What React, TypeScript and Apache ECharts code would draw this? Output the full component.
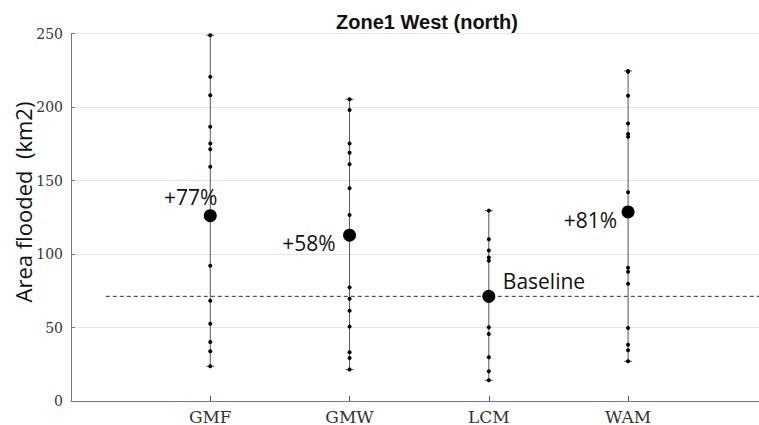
import React, { useEffect, useRef } from "react";
import * as echarts from "echarts";

const categories = ["GMF", "GMW", "LCM", "WAM"];
const categoryPositions = [1, 2, 3, 4];
const gmfValues = [248.8, 220.5, 208.0, 186.5, 175.2, 171.2, 159.4, 92.0, 68.2, 52.6, 40.2, 33.8, 23.6];
const gmwValues = [205.3, 197.9, 175.2, 168.9, 161.0, 144.7, 126.6, 77.3, 69.6, 61.4, 50.6, 33.1, 29.3, 21.4];
const lcmValues = [129.5, 110.1, 102.4, 97.6, 95.4, 50.1, 45.6, 29.8, 20.3, 14.1];
const wamValues = [224.5, 223.9, 207.6, 188.8, 181.6, 179.8, 142.0, 90.6, 87.9, 79.8, 49.7, 38.3, 34.5, 27.0];
const meanValues = [126.1, 112.8, 71.2, 128.6];
const meanLabels = ["+77%", "+58%", "Baseline", "+81%"];
const baselineValue = 71.2;
const baselineRange = [0.25, 4.94];
const yTicks = [0, 50, 100, 150, 200, 250];

const allValues = [gmfValues, gmwValues, lcmValues, wamValues];

export default function App() {
  const ref = useRef<HTMLDivElement>(null);
  useEffect(() => {
    if (!ref.current) return;
    const chart = echarts.init(ref.current, undefined, { renderer: "svg" });
    const sans = "'Open Sans', 'Noto Sans', sans-serif";
    const serif = "'DejaVu Serif', serif";

    const rangeData = allValues.map((vals, i) => [
      categoryPositions[i],
      Math.min(...vals),
      Math.max(...vals),
    ]);
    const dotData: number[][] = [];
    allValues.forEach((vals, i) => vals.forEach((v) => dotData.push([categoryPositions[i], v])));

    const labelCfg = [
      { align: "right", offset: [7, -19] },
      { align: "right", offset: [-14, 8] },
      { align: "left", offset: [14, -15] },
      { align: "right", offset: [-11, 8] },
    ];

    const meanData = meanValues.map((v, i) => ({
      value: [categoryPositions[i], v],
      label: {
        show: true,
        position: "inside",
        formatter: meanLabels[i],
        align: labelCfg[i].align,
        verticalAlign: "middle",
        offset: labelCfg[i].offset,
        fontFamily: sans,
        fontSize: 21,
        color: "#111",
      },
    }));

    chart.setOption({
      animation: false,
      backgroundColor: "#fff",
      title: {
        text: "Zone1 West (north)",
        left: 422,
        top: 7,
        textAlign: "center",
        textStyle: { fontFamily: "'Liberation Sans', Arial, sans-serif", fontWeight: "bold", fontSize: 20, color: "#111" },
      },
      grid: { left: 71, top: 33.5, width: 688, height: 368, containLabel: false },
      xAxis: {
        type: "value",
        min: 0,
        max: 4.94,
        axisLine: { show: true, lineStyle: { color: "#777", width: 1 } },
        axisTick: { show: true, inside: true, length: 5, customValues: categoryPositions, lineStyle: { color: "#555" } },
        axisLabel: {
          show: true,
          customValues: categoryPositions,
          formatter: (v: number) => categories[categoryPositions.indexOf(v)] ?? "",
          fontFamily: serif,
          fontSize: 17,
          color: "#333",
          margin: 7,
        },
        splitLine: { show: false },
      },
      yAxis: {
        type: "value",
        min: yTicks[0],
        max: yTicks[yTicks.length - 1],
        interval: 50,
        axisLine: { show: true, lineStyle: { color: "#777", width: 1 } },
        axisTick: { show: true, inside: true, length: 4, lineStyle: { color: "#777" } },
        axisLabel: { fontFamily: serif, fontSize: 14, color: "#333", margin: 8 },
        splitLine: { show: true, lineStyle: { color: "#e6e6e6", width: 1 } },
      },
      graphic: [
        {
          type: "text",
          x: 23,
          y: 202,
          rotation: Math.PI / 2,
          style: {
            text: "Area flooded  (km2)",
            fontFamily: sans,
            fontSize: 22,
            fill: "#111",
            align: "center",
            verticalAlign: "middle",
          },
        },
      ],
      series: [
        {
          type: "line",
          data: [
            [baselineRange[0], baselineValue],
            [baselineRange[1], baselineValue],
          ],
          symbol: "none",
          lineStyle: { color: "#333", width: 1, type: [4, 3] },
          z: 1,
        },
        {
          type: "custom",
          data: rangeData,
          encode: { x: 0, y: [1, 2] },
          renderItem: (params: any, api: any) => {
            const x = api.value(0);
            const top = api.coord([x, api.value(2)]);
            const bot = api.coord([x, api.value(1)]);
            const hw = 4;
            const st = { stroke: "#555", lineWidth: 1 };
            return {
              type: "group",
              children: [
                { type: "line", shape: { x1: top[0], y1: top[1], x2: bot[0], y2: bot[1] }, style: st },
                { type: "line", shape: { x1: top[0] - hw, y1: top[1], x2: top[0] + hw, y2: top[1] }, style: st },
                { type: "line", shape: { x1: bot[0] - hw, y1: bot[1], x2: bot[0] + hw, y2: bot[1] }, style: st },
              ],
            };
          },
          z: 2,
        },
        {
          type: "scatter",
          data: dotData,
          symbol: "circle",
          symbolSize: 4,
          itemStyle: { color: "#000", opacity: 1 },
          z: 3,
        },
        {
          type: "scatter",
          data: meanData,
          symbol: "circle",
          symbolSize: 13,
          itemStyle: { color: "#000", opacity: 1 },
          z: 4,
        },
      ],
    });
    return () => chart.dispose();
  }, []);
  return <div ref={ref} style={{ position: "fixed", left: 0, top: 0, width: 759, height: 425 }} />;
}
